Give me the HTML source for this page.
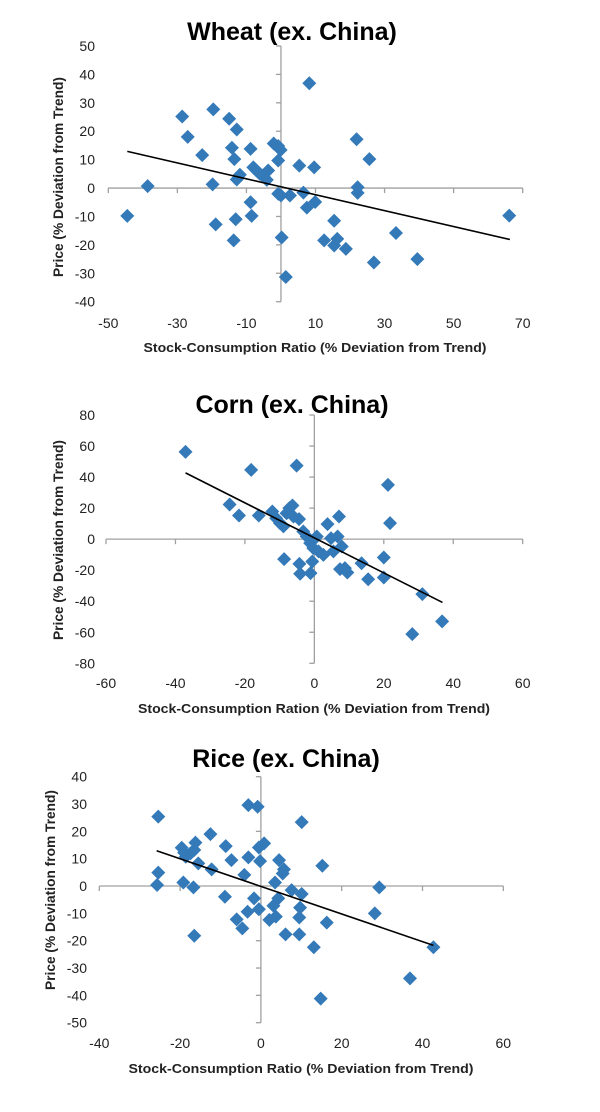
<!DOCTYPE html>
<html><head><meta charset="utf-8"><style>
html,body{margin:0;padding:0;background:#fff;}
svg{display:block;font-family:"Liberation Sans",sans-serif;}
</style></head><body>
<svg id="fig" width="600" height="1112" viewBox="0 0 600 1112"></svg>
<script>
const wheatX=[-44.5,-38.6,-28.6,-27,-22.8,-19.8,-19.6,-18.9,-15,-14.2,-13.5,-12.8,-13.1,-13.7,-12.8,-11.9,-8.8,-8.8,-8.5,-8,-7.1,-6.1,-5.2,-3.7,-4.1,-2.1,-0.8,-0.1,-0.8,-0.8,0,0.2,1.4,2.6,5.3,6.5,7.5,8.2,9.6,9.9,12.5,15.4,15.4,16.3,18.8,21.9,22.2,22.2,25.6,26.9,33.3,39.5,66.1];
const wheatY=[-9.8,0.7,25.2,18,11.6,1.3,27.7,-12.8,24.4,14.2,10.2,20.6,-11,-18.4,3,4.7,13.8,-5,-9.8,7.3,6.2,5,4.4,6.2,2.9,15.7,14.8,13.4,9.7,-2,-2.6,-17.4,-31.3,-2.6,7.9,-1.6,-6.9,36.9,7.3,-4.9,-18.4,-11.5,-20.2,-17.9,-21.4,17.2,0.3,-1.7,10.2,-26.2,-15.8,-25,-9.7];
const wheatTrendX=[-44.5,66.3];
const wheatTrendY=[12.9,-18.1];
const wheatXTicks=[-50,-30,-10,10,30,50,70];
const wheatYTicks=[50,40,30,20,10,0,-10,-20,-30,-40];

const cornX=[-37.1,-18.2,-5.1,-24.4,-21.7,-16,-12.1,-11,-9.9,-8.9,-8,-7.2,-6.3,-6,-4.4,-8.7,-4.3,-4.1,-1.1,-0.6,-3.2,-2.2,-1.2,-0.3,0.7,1.2,2.6,3.8,4.8,5.5,6.7,7.1,7.9,7.4,8.8,9.5,13.6,15.5,20,20,21.2,21.8,31.1,36.8,28.2];
const cornY=[56.2,44.6,47.4,22.3,15.2,15.2,17.8,13.5,10.3,8.2,16.7,20,21.7,14.6,12.9,-12.9,-15.9,-22.3,-21.9,-14.4,4.9,1.7,-2.6,-5.8,1.7,-7.9,-10.1,9.7,0.6,-7.9,1.7,14.6,-4.7,-19.3,-18.7,-21.5,-15.5,-25.8,-11.8,-24.7,35,10.3,-35.4,-53,-61.2];
const cornTrendX=[-37.1,36.9];
const cornTrendY=[42.7,-40.8];
const cornXTicks=[-60,-40,-20,0,20,40,60];
const cornYTicks=[80,60,40,20,0,-20,-40,-60,-80];

const riceX=[-25.4,-25.4,-25.7,-19.6,-19,-18.6,-17.4,-16.5,-16.2,-15.5,-19.2,-16.7,-16.5,-12.5,-12.2,-8.7,-7.3,-8.9,-6,-4.6,-4.1,-3.1,-3.3,-3.1,-0.8,-1.7,-0.5,-0.2,-0.5,0.8,3.5,3.1,2.1,3.7,4.3,4.5,5.4,5.7,6.1,7.6,10.1,9.7,9.5,9.5,10.1,13.1,15.2,14.8,16.3,28.2,29.3,36.9,42.7];
const riceY=[25.4,4.9,0.4,14,12.2,10.7,12,13.2,15.9,8.3,1.3,-0.5,-18.2,19,6.1,14.6,9.5,-3.9,-12.2,-15.5,4.1,10.5,-9.4,29.6,29,-4.5,-8.5,9.1,14.1,15.6,1.3,-7.2,-12.4,-11.2,-4.5,9.5,4.6,6.1,-17.7,-1.5,-2.9,-7.9,-11.5,-17.7,23.4,-22.4,7.4,-41.2,-13.4,-10,-0.5,-33.8,-22.4];
const riceTrendX=[-25.8,42.7];
const riceTrendY=[12.9,-21.7];
const riceXTicks=[-40,-20,0,20,40,60];
const riceYTicks=[40,30,20,10,0,-10,-20,-30,-40,-50];

const NS="http://www.w3.org/2000/svg";
const svg=document.getElementById('fig');
function mk(tag,attrs,parent){const e=document.createElementNS(NS,tag);for(const k in attrs)e.setAttribute(k,attrs[k]);(parent||svg).appendChild(e);return e;}

function chart(cfg){
  const g=mk('g',{});
  
  
  const sx=v=>cfg.x0+(v-cfg.xmin)/(cfg.xmax-cfg.xmin)*(cfg.x1-cfg.x0);
  const sy=v=>cfg.y0+(cfg.ymax-v)/(cfg.ymax-cfg.ymin)*(cfg.y1-cfg.y0);
  const t=mk('text',{x:cfg.titleX,y:cfg.titleY,'text-anchor':'middle','font-size':25,'font-weight':'bold',fill:'#000'},g);
  t.textContent=cfg.title;
  
  
  const ax=sx(0), ay=sy(0);
  const xa=mk('line',{x1:cfg.x0,y1:ay,x2:cfg.x1,y2:ay,stroke:'#a0a0a0','stroke-width':1.3},g);
  
  
  const ya=mk('line',{x1:ax,y1:cfg.y0,x2:ax,y2:cfg.y1,stroke:'#a0a0a0','stroke-width':1.3},g);
  
  
  cfg.xt.forEach(v=>{
    mk('line',{x1:sx(v),y1:ay,x2:sx(v),y2:ay+5,stroke:'#a0a0a0','stroke-width':1.3},g);
    const l=mk('text',{x:sx(v),y:cfg.xLabY,'text-anchor':'middle','font-size':14,fill:'#222'},g);
    l.textContent=v;
    
    
  });
  cfg.yt.forEach(v=>{
    mk('line',{x1:ax-5,y1:sy(v),x2:ax,y2:sy(v),stroke:'#a0a0a0','stroke-width':1.3},g);
    const l=mk('text',{x:cfg.yLabX,y:sy(v)+5,'text-anchor':'end','font-size':14,fill:'#222'},g);
    l.textContent=v;
    
    
  });
  const xt=mk('text',{x:cfg.xtX,y:cfg.xtY,'text-anchor':'middle','font-size':13,'font-weight':'bold',fill:'#222',textLength:cfg.xtLen,lengthAdjust:'spacingAndGlyphs'},g);
  xt.textContent=cfg.xTitle;
  
  
  const yt=mk('text',{x:0,y:0,transform:`translate(${cfg.ytX},${cfg.ytY}) rotate(-90)`,'text-anchor':'middle','font-size':14,'font-weight':'bold',fill:'#222',textLength:200,lengthAdjust:'spacingAndGlyphs'},g);
  yt.textContent='Price (% Deviation from Trend)';
  
  
  cfg.px.forEach((v,i)=>{
    const cx=sx(v), cy=sy(cfg.py[i]), r=7;
    const p=mk('polygon',{points:`${cx},${cy-r} ${cx+r},${cy} ${cx},${cy+r} ${cx-r},${cy}`,fill:'#3479b8'},g);
    
    
  });
  const tl=mk('line',{x1:sx(cfg.tx[0]),y1:sy(cfg.ty[0]),x2:sx(cfg.tx[1]),y2:sy(cfg.ty[1]),stroke:'#000','stroke-width':1.6},g);
  
  
}

chart({key:'wheat',title:'Wheat (ex. China)',titleX:292,titleY:40,
  x0:108.3,x1:522.7,xmin:-50,xmax:70,y0:46,y1:301.7,ymin:-40,ymax:50,
  xt:wheatXTicks,yt:wheatYTicks,xLabY:328,yLabX:95,
  xTitle:'Stock-Consumption Ratio (% Deviation from Trend)',xtX:315,xtY:352,xtLen:343,ytX:63,ytY:177,
  px:wheatX,py:wheatY,tx:wheatTrendX,ty:wheatTrendY});
chart({key:'corn',title:'Corn (ex. China)',titleX:292,titleY:413,
  x0:106,x1:522.7,xmin:-60,xmax:60,y0:415,y1:663.3,ymin:-80,ymax:80,
  xt:cornXTicks,yt:cornYTicks,xLabY:688,yLabX:95,
  xTitle:'Stock-Consumption Ration (% Deviation from Trend)',xtX:314,xtY:713,xtLen:352,ytX:63,ytY:540,
  px:cornX,py:cornY,tx:cornTrendX,ty:cornTrendY});
chart({key:'rice',title:'Rice (ex. China)',titleX:286,titleY:767,
  x0:99.3,x1:503.3,xmin:-40,xmax:60,y0:776.7,y1:1022.7,ymin:-50,ymax:40,
  xt:riceXTicks,yt:riceYTicks,xLabY:1048,yLabX:87,
  xTitle:'Stock-Consumption Ratio (% Deviation from Trend)',xtX:301,xtY:1073,xtLen:345,ytX:55,ytY:890,
  px:riceX,py:riceY,tx:riceTrendX,ty:riceTrendY});
</script>
</body></html>
